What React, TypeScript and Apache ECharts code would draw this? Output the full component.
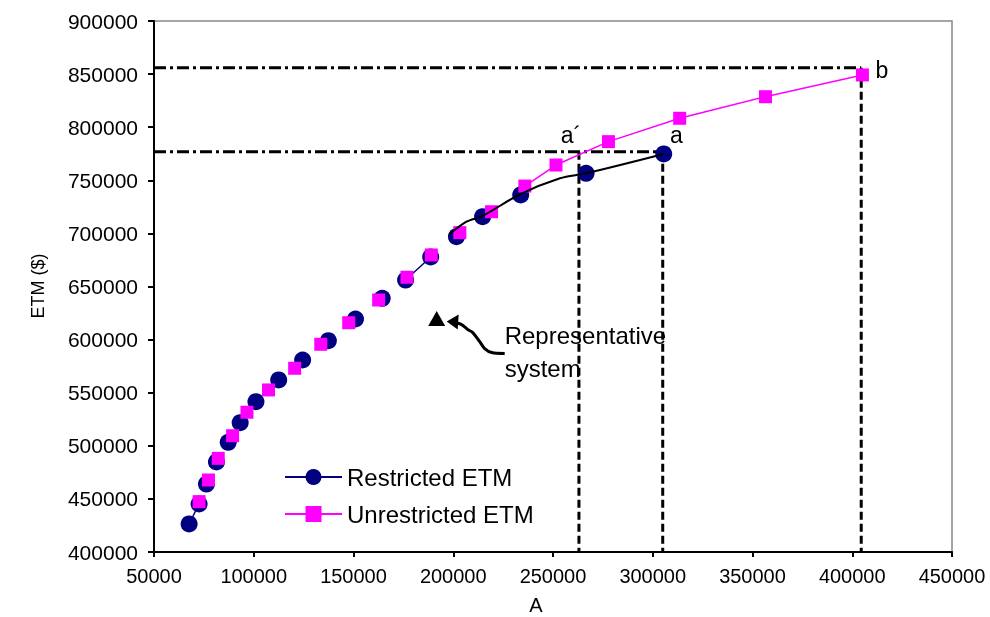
import React, { useEffect, useRef } from "react";
import * as echarts from "echarts";

// Restricted ETM (circles)
const restrictedA = [67600, 72600, 76300, 81300, 87200, 93200, 101100, 112500, 124500, 137400, 151000, 164400, 176100, 188700, 201600, 214700, 233800, 266600, 305500];
const restrictedETM = [426400, 445200, 464000, 484800, 503300, 521800, 541500, 562000, 580800, 599000, 619400, 638900, 656100, 677800, 696900, 715700, 736200, 756600, 774800];

// Unrestricted ETM (squares)
const unrestrictedA = [72600, 77300, 82200, 89400, 96600, 107400, 120500, 133600, 147600, 162600, 176800, 189000, 203300, 219200, 235900, 251500, 277800, 313500, 356500, 405100];
const unrestrictedETM = [447400, 467800, 488200, 509500, 531600, 552600, 573000, 595600, 615900, 637300, 658700, 679700, 700700, 720400, 744600, 764400, 786400, 808400, 828700, 849200];

// visible connecting segments (indices into the arrays above)
const restrictedSegments = [[0, 1], [12, 13]];
const unrestrictedLineFrom = 14;

// black curve drawn over the upper restricted points
const trendA = [198000, 206600, 214700, 233400, 253500, 266600, 305500];
const trendETM = [699000, 711000, 716400, 736800, 751900, 756600, 774800];

// reference levels
const levelB = 856000;
const levelA = 777000;
const aPrimeA = 263000;
const aA = 305000;
const bA = 404500;

// point labels
const pointLabels = ["a\u00B4", "a", "b"];
const labelA = [259000, 311800, 414800];
const labelETM = [792700, 792700, 853900];

// representative system
const repA = 191700;
const repETM = 619800;

const xMin = 50000, xMax = 450000, xStep = 50000;
const yMin = 400000, yMax = 900000, yStep = 50000;

const FONT = '"Liberation Sans", Arial, Helvetica, sans-serif';
const NAVY = "#000080";
const PINK = "#ff00ff";

const pairs = (xs: number[], ys: number[]) => xs.map((x, i) => [x, ys[i]]);

export default function App() {
  const ref = useRef<HTMLDivElement>(null);
  useEffect(() => {
    if (!ref.current) return;
    const chart = echarts.init(ref.current, undefined, { renderer: "svg" });
    const dashDot = { color: "#000", width: 3, type: [12, 4, 3, 4] as number[] };
    const dashed = { color: "#000", width: 3, type: [8, 4] as number[] };
    const refLine = (name: string, data: number[][], ls: any) => ({
      name, type: "line", data, symbol: "none", silent: true, z: 1, lineStyle: ls,
    });
    const restrictedPts = pairs(restrictedA, restrictedETM);
    const unrestrictedPts = pairs(unrestrictedA, unrestrictedETM);
    const navySegData: any[] = [];
    restrictedSegments.forEach(([a, b], k) => {
      if (k > 0) navySegData.push("-");
      for (let i = a; i <= b; i++) navySegData.push(restrictedPts[i]);
    });
    const lbl = (v: number) => String(v);
    chart.setOption({
      animation: false,
      textStyle: { fontFamily: FONT },
      grid: { left: 154, top: 21, right: 38, bottom: 65, show: true, borderColor: "#888", borderWidth: 1.5, backgroundColor: "transparent" },
      xAxis: {
        type: "value", min: xMin, max: xMax, interval: xStep,
        axisLine: { show: true, lineStyle: { color: "#000", width: 2 } },
        axisTick: { show: true, length: 5, lineStyle: { color: "#000", width: 2 } },
        axisLabel: { color: "#000", fontSize: 20, margin: 14, fontFamily: FONT, formatter: lbl },
        splitLine: { show: false },
      },
      yAxis: {
        type: "value", min: yMin, max: yMax, interval: yStep,
        axisLine: { show: true, lineStyle: { color: "#000", width: 2 } },
        axisTick: { show: true, length: 6, lineStyle: { color: "#000", width: 2 } },
        axisLabel: { color: "#000", fontSize: 21, margin: 16, fontFamily: FONT, formatter: lbl },
        splitLine: { show: false },
      },
      legend: {
        orient: "vertical", left: 279, top: 460, itemWidth: 57, itemHeight: 20, itemGap: 13,
        data: [
          { name: "Restricted ETM", lineStyle: { color: NAVY, width: 2 } },
          { name: "Unrestricted ETM", lineStyle: { color: PINK, width: 2 } },
        ],
        textStyle: { color: "#000", fontSize: 24, fontFamily: FONT },
      },
      series: [
        refLine("refB_h", [[xMin, levelB], [bA, levelB]], dashDot),
        refLine("refB_v", [[bA, levelB], [bA, yMin]], dashed),
        refLine("refA_h", [[xMin, levelA], [aA, levelA]], dashDot),
        refLine("refA_v", [[aA, levelA], [aA, yMin]], dashed),
        refLine("refAp_v", [[aPrimeA, levelA], [aPrimeA, yMin]], dashed),
        {
          name: "restrictedSeg", type: "line", data: navySegData, symbol: "none", z: 2, silent: true,
          lineStyle: { color: NAVY, width: 1.5 },
        },
        {
          name: "Restricted ETM", type: "line", data: restrictedPts,
          symbol: "circle", symbolSize: 17, z: 3,
          itemStyle: { color: NAVY }, lineStyle: { color: NAVY, width: 0 },
        },
        {
          name: "unrestrictedSeg", type: "line", data: unrestrictedPts.slice(unrestrictedLineFrom), symbol: "none", z: 4, silent: true,
          lineStyle: { color: PINK, width: 1.5 },
        },
        {
          name: "Unrestricted ETM", type: "line", data: unrestrictedPts,
          symbol: "rect", symbolSize: 13, z: 4,
          itemStyle: { color: PINK }, lineStyle: { color: PINK, width: 0 },
        },
        {
          name: "trend", type: "line", data: pairs(trendA, trendETM), smooth: 0.3,
          symbol: "none", z: 5, lineStyle: { color: "#000", width: 2 }, silent: true,
        },
        {
          name: "rep", type: "scatter", data: [[repA, repETM]], symbol: "triangle",
          symbolSize: [17, 15], itemStyle: { color: "#000", opacity: 1 }, z: 5, silent: true,
        },
        {
          name: "labels", type: "scatter", symbolSize: 1, z: 6, silent: true,
          itemStyle: { color: "rgba(0,0,0,0)", opacity: 1 },
          data: pointLabels.map((n, i) => ({ name: n, value: [labelA[i], labelETM[i]] })),
          label: { show: true, position: "inside", formatter: "{b}", color: "#000", fontSize: 23, fontFamily: FONT, opacity: 1 },
        },
      ],
    });
    const p = chart.convertToPixel({ gridIndex: 0 }, [repA, repETM]) as number[];
    chart.setOption({
      graphic: [
        {
          type: "group", x: p[0], y: p[1], z: 10,
          children: [
            {
              type: "polyline",
              shape: { points: [[68, 35], [55, 34], [48, 30], [43, 23], [36, 14], [31, 11], [25, 6], [18, 4]], smooth: 0.3 },
              style: { stroke: "#000", lineWidth: 3, fill: null },
            },
            { type: "polygon", shape: { points: [[10, 3], [22, -4], [21, 11]] }, style: { fill: "#000" } },
            {
              type: "text", x: 68, y: 0,
              style: { text: "Representative\nsystem", fontSize: 24, fontFamily: FONT, fill: "#000", lineHeight: 33, align: "left", verticalAlign: "top" },
            },
          ],
        },
        {
          type: "text", x: 536, y: 605,
          style: { text: "A", fontSize: 20, fontFamily: FONT, fill: "#000", align: "center", verticalAlign: "middle" },
        },
        {
          type: "text", x: 38, y: 286, rotation: Math.PI / 2,
          style: { text: "ETM ($)", fontSize: 18, fontFamily: FONT, fill: "#000", align: "center", verticalAlign: "middle" },
        },
      ],
    });
    return () => chart.dispose();
  }, []);
  return <div ref={ref} style={{ position: "fixed", left: 0, top: 0, width: 990, height: 617 }} />;
}
